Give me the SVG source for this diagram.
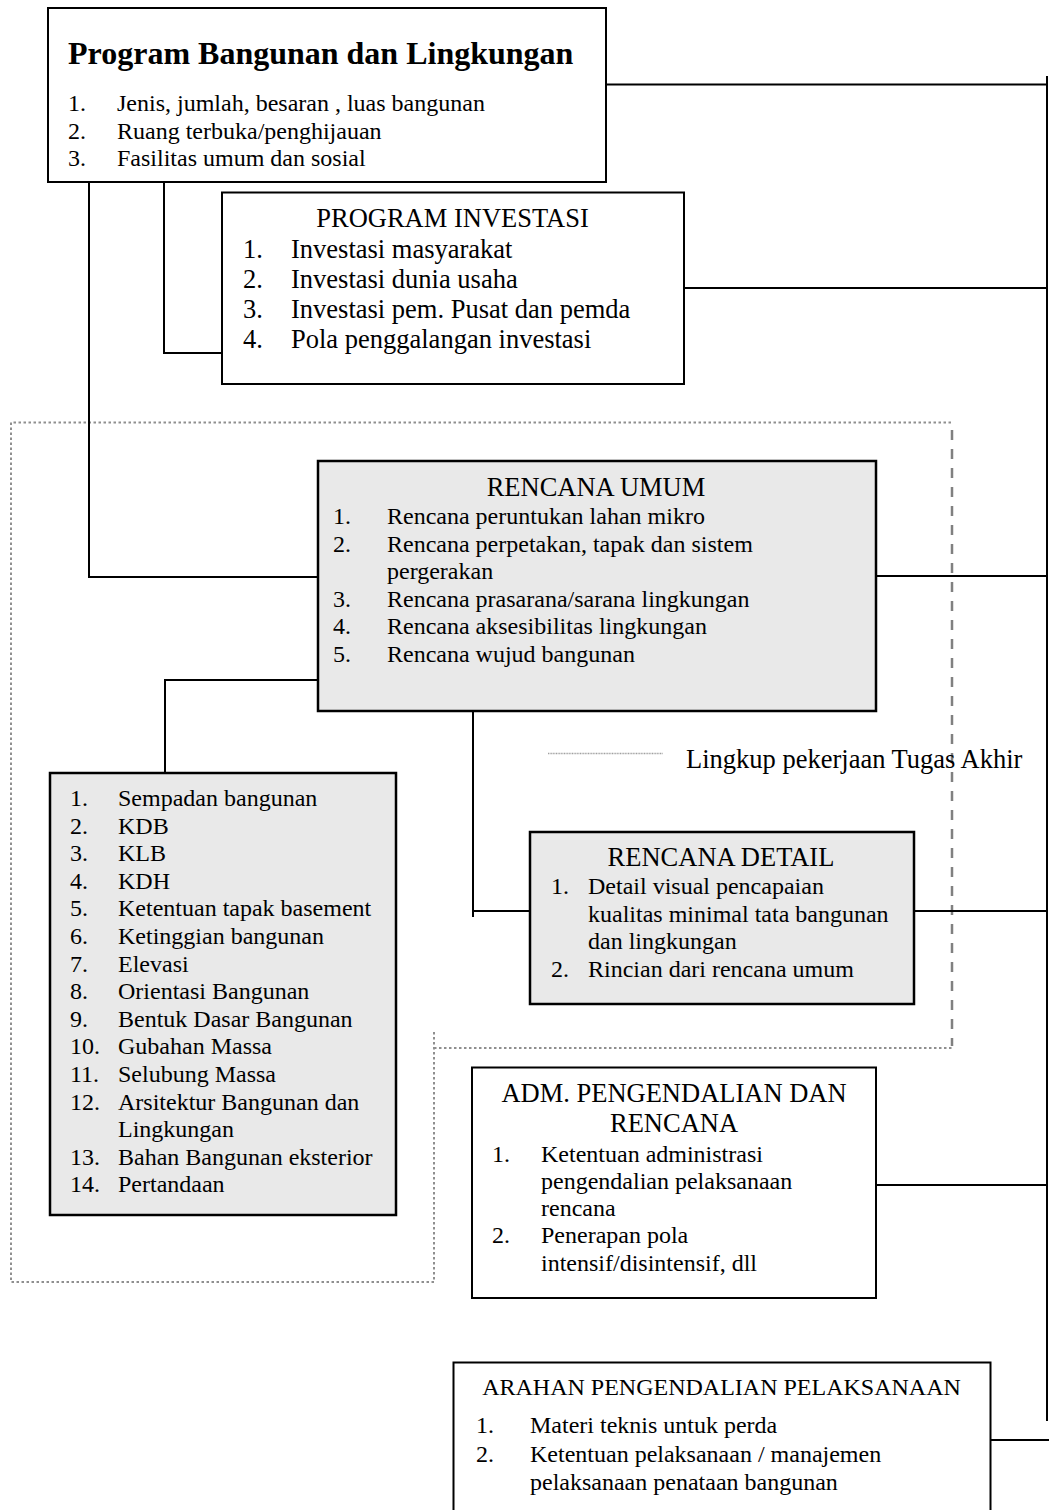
<svg xmlns="http://www.w3.org/2000/svg" width="1049" height="1510" viewBox="0 0 1049 1510">
  <style>
    .box { fill: #ffffff; stroke: #000000; stroke-width: 2; }
    .shade { fill: #e9e9e9; stroke: #000000; stroke-width: 2.5; }
    .wire { fill: none; stroke: #000000; stroke-width: 2; }
    .scope { fill: none; stroke: #8f8f8f; stroke-width: 2; stroke-dasharray: 2.5 2.5; }
    .scope-dash { fill: none; stroke: #808080; stroke-width: 2.5; stroke-dasharray: 10 9; }
    .key { fill: none; stroke: #a0a0a0; stroke-width: 1.5; stroke-dasharray: 1 0.6; }
    text { font-family: "Liberation Serif", "Times New Roman", serif; fill: #000000; }
    .head { font-size: 32px; font-weight: bold; }
    .t24 { font-size: 24px; }
    .t26 { font-size: 26.5px; }
    .mid { text-anchor: middle; }
  </style>

  <!-- scope boundary of the final-project work -->
  <g id="scope">
    <polyline class="scope" points="951,422.5 11,422.5 11,1282 434,1282 434,1031"/>
    <polyline class="scope" points="434,1048 952,1048"/>
    <line class="scope-dash" x1="952" y1="430" x2="952" y2="1046"/>
  </g>

  <!-- connectors -->
  <g id="connectors">
    <line class="wire" x1="606" y1="84.5" x2="1047" y2="84.5"/>
    <line class="wire" x1="1047" y1="76" x2="1047" y2="1421"/>
    <polyline class="wire" points="164,182 164,353 222,353"/>
    <line class="wire" x1="684" y1="288" x2="1047" y2="288"/>
    <polyline class="wire" points="89,182 89,577 318,577"/>
    <line class="wire" x1="876" y1="576" x2="1047" y2="576"/>
    <polyline class="wire" points="165,773 165,680 318,680"/>
    <polyline class="wire" points="473,711 473,917"/>
    <line class="wire" x1="473" y1="911" x2="530" y2="911"/>
    <line class="wire" x1="914" y1="911" x2="1047" y2="911"/>
    <line class="wire" x1="876" y1="1185" x2="1047" y2="1185"/>
    <line class="wire" x1="991" y1="1440" x2="1049" y2="1440"/>
  </g>

  <!-- programme of buildings and environment -->
  <g id="program-bangunan">
    <rect class="box" x="48" y="8" width="558" height="174"/>
    <text class="head" x="68" y="64">Program Bangunan dan Lingkungan</text>
    <text class="t24" x="68" y="111">1.</text>
    <text class="t24" x="117" y="111">Jenis, jumlah, besaran , luas bangunan</text>
    <text class="t24" x="68" y="138.5">2.</text>
    <text class="t24" x="117" y="138.5">Ruang terbuka/penghijauan</text>
    <text class="t24" x="68" y="166">3.</text>
    <text class="t24" x="117" y="166">Fasilitas umum dan sosial</text>
  </g>

  <!-- investment programme -->
  <g id="program-investasi">
    <rect class="box" x="222" y="192.5" width="462" height="191.5"/>
    <text class="t26 mid" x="452.5" y="227">PROGRAM INVESTASI</text>
    <text class="t26" x="243" y="258">1.</text>
    <text class="t26" x="291" y="258">Investasi masyarakat</text>
    <text class="t26" x="243" y="288">2.</text>
    <text class="t26" x="291" y="288">Investasi dunia usaha</text>
    <text class="t26" x="243" y="318">3.</text>
    <text class="t26" x="291" y="318">Investasi pem. Pusat dan pemda</text>
    <text class="t26" x="243" y="348">4.</text>
    <text class="t26" x="291" y="348">Pola penggalangan investasi</text>
  </g>

  <!-- general plan -->
  <g id="rencana-umum">
    <rect class="shade" x="318" y="461" width="558" height="250"/>
    <text class="t26 mid" x="596" y="496">RENCANA UMUM</text>
    <text class="t24" x="333" y="524">1.</text>
    <text class="t24" x="387" y="524">Rencana peruntukan lahan mikro</text>
    <text class="t24" x="333" y="552">2.</text>
    <text class="t24" x="387" y="552">Rencana perpetakan, tapak dan sistem</text>
    <text class="t24" x="387" y="579">pergerakan</text>
    <text class="t24" x="333" y="607">3.</text>
    <text class="t24" x="387" y="607">Rencana prasarana/sarana lingkungan</text>
    <text class="t24" x="333" y="634">4.</text>
    <text class="t24" x="387" y="634">Rencana aksesibilitas lingkungan</text>
    <text class="t24" x="333" y="662">5.</text>
    <text class="t24" x="387" y="662">Rencana wujud bangunan</text>
  </g>

  <!-- building rules list -->
  <g id="ketentuan">
    <rect class="shade" x="50" y="773" width="346" height="442"/>
    <text class="t24" x="70" y="806">1.</text>
    <text class="t24" x="118" y="806">Sempadan bangunan</text>
    <text class="t24" x="70" y="833.6">2.</text>
    <text class="t24" x="118" y="833.6">KDB</text>
    <text class="t24" x="70" y="861.2">3.</text>
    <text class="t24" x="118" y="861.2">KLB</text>
    <text class="t24" x="70" y="888.8">4.</text>
    <text class="t24" x="118" y="888.8">KDH</text>
    <text class="t24" x="70" y="916.4">5.</text>
    <text class="t24" x="118" y="916.4">Ketentuan tapak basement</text>
    <text class="t24" x="70" y="944">6.</text>
    <text class="t24" x="118" y="944">Ketinggian bangunan</text>
    <text class="t24" x="70" y="971.6">7.</text>
    <text class="t24" x="118" y="971.6">Elevasi</text>
    <text class="t24" x="70" y="999.2">8.</text>
    <text class="t24" x="118" y="999.2">Orientasi Bangunan</text>
    <text class="t24" x="70" y="1026.8">9.</text>
    <text class="t24" x="118" y="1026.8">Bentuk Dasar Bangunan</text>
    <text class="t24" x="70" y="1054.4">10.</text>
    <text class="t24" x="118" y="1054.4">Gubahan Massa</text>
    <text class="t24" x="70" y="1082">11.</text>
    <text class="t24" x="118" y="1082">Selubung Massa</text>
    <text class="t24" x="70" y="1109.6">12.</text>
    <text class="t24" x="118" y="1109.6">Arsitektur Bangunan dan</text>
    <text class="t24" x="118" y="1137.2">Lingkungan</text>
    <text class="t24" x="70" y="1164.8">13.</text>
    <text class="t24" x="118" y="1164.8">Bahan Bangunan eksterior</text>
    <text class="t24" x="70" y="1192.4">14.</text>
    <text class="t24" x="118" y="1192.4">Pertandaan</text>
  </g>

  <!-- legend -->
  <g id="legend">
    <line class="key" x1="548" y1="753.5" x2="663" y2="753.5"/>
    <text class="t26" x="686" y="768">Lingkup pekerjaan Tugas Akhir</text>
  </g>

  <!-- detail plan -->
  <g id="rencana-detail">
    <rect class="shade" x="530" y="832" width="384" height="172"/>
    <text class="t26 mid" x="721" y="866">RENCANA DETAIL</text>
    <text class="t24" x="551" y="894">1.</text>
    <text class="t24" x="588" y="894">Detail visual pencapaian</text>
    <text class="t24" x="588" y="922">kualitas minimal tata bangunan</text>
    <text class="t24" x="588" y="949">dan lingkungan</text>
    <text class="t24" x="551" y="977">2.</text>
    <text class="t24" x="588" y="977">Rincian dari rencana umum</text>
  </g>

  <!-- control administration -->
  <g id="adm-pengendalian">
    <rect class="box" x="472" y="1067.5" width="404" height="230.5"/>
    <text class="t26 mid" x="674" y="1102">ADM. PENGENDALIAN DAN</text>
    <text class="t26 mid" x="674" y="1132">RENCANA</text>
    <text class="t24" x="492" y="1162">1.</text>
    <text class="t24" x="541" y="1162">Ketentuan administrasi</text>
    <text class="t24" x="541" y="1189">pengendalian pelaksanaan</text>
    <text class="t24" x="541" y="1216">rencana</text>
    <text class="t24" x="492" y="1243">2.</text>
    <text class="t24" x="541" y="1243">Penerapan pola</text>
    <text class="t24" x="541" y="1271">intensif/disintensif, dll</text>
  </g>

  <!-- implementation control -->
  <g id="arahan-pengendalian">
    <rect class="box" x="453.5" y="1362.5" width="537" height="160"/>
    <text class="t24 mid" x="721.5" y="1395">ARAHAN PENGENDALIAN PELAKSANAAN</text>
    <text class="t24" x="476" y="1433">1.</text>
    <text class="t24" x="530" y="1433">Materi teknis untuk perda</text>
    <text class="t24" x="476" y="1462">2.</text>
    <text class="t24" x="530" y="1462">Ketentuan pelaksanaan / manajemen</text>
    <text class="t24" x="530" y="1490">pelaksanaan penataan bangunan</text>
  </g>
</svg>
